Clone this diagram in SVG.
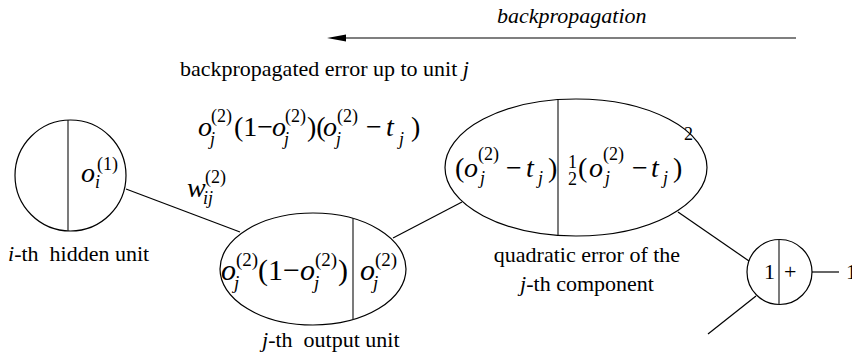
<svg xmlns="http://www.w3.org/2000/svg" width="852" height="362" viewBox="0 0 852 362" font-family="'Liberation Serif', 'Times New Roman', 'DejaVu Serif', serif">
<style>
.shape{fill:none;stroke:#000;stroke-width:1.2}
.div{stroke:#222;stroke-width:1.2}
.edge{stroke:#000;stroke-width:1.2;fill:none}
text, tspan{font-family:'Liberation Serif','Times New Roman','DejaVu Serif',serif}
text{fill:#000}
.lbl{font-size:22px}
.it{font-style:italic}
.f{font-size:30px}
.f2{font-size:28px}
.s{font-size:19px}
.s2{font-size:18px}
</style>
<rect width="852" height="362" fill="#fff"/>

<g id="backprop-arrow">
<text class="lbl it" x="497" y="23">backpropagation</text>
<line class="edge" x1="344" y1="38" x2="796" y2="38"/>
<polygon points="327,38 346,34.5 346,41.5" fill="#000"/>
</g>

<g id="backprop-error">
<text class="lbl" x="180" y="76">backpropagated error up to unit <tspan class="it">j</tspan></text>
<text class="f2">
<tspan class="it" x="198" y="136">o</tspan>
<tspan class="s2" x="211" y="122">(2)</tspan>
<tspan class="s2 it" x="210" y="145">j</tspan>
<tspan x="234" y="136">(1−</tspan>
<tspan class="it" x="272" y="136">o</tspan>
<tspan class="s2" x="285" y="122">(2)</tspan>
<tspan class="s2 it" x="284" y="145">j</tspan>
<tspan x="307" y="136">)(</tspan>
<tspan class="it" x="323" y="136">o</tspan>
<tspan class="s2" x="337" y="122">(2)</tspan>
<tspan class="s2 it" x="336" y="145">j</tspan>
<tspan x="366" y="136">−</tspan>
<tspan class="it" x="386" y="136">t</tspan>
<tspan class="s2 it" x="399" y="145">j</tspan>
<tspan x="411" y="136">)</tspan>
</text>
</g>

<g id="connectors">
<line class="edge" x1="126" y1="189" x2="240" y2="232"/>
<line class="edge" x1="393" y1="238" x2="462" y2="202"/>
<line class="edge" x1="678" y1="212" x2="749" y2="261"/>
<line class="edge" x1="756" y1="296" x2="708" y2="334"/>
<line class="edge" x1="812" y1="272" x2="839" y2="272"/>
<text class="f2">
<tspan class="it" x="187" y="197">w</tspan>
<tspan class="s2" x="205" y="183">(2)</tspan>
<tspan class="s2 it" x="203" y="204">ij</tspan>
</text>
</g>

<g id="hidden-unit">
<circle class="shape" cx="70.5" cy="175.5" r="55.5"/>
<line class="div" x1="68" y1="120" x2="68" y2="231"/>
<text class="f2">
<tspan class="it" x="81" y="182">o</tspan>
<tspan class="s2" x="97" y="170">(1)</tspan>
<tspan class="s2 it" x="95" y="188">i</tspan>
</text>
<text class="lbl" x="8" y="261"><tspan class="it">i</tspan>-th&#160; hidden unit</text>
</g>

<g id="output-unit">
<ellipse class="shape" cx="313" cy="269" rx="93" ry="56"/>
<line class="div" x1="353" y1="218" x2="353" y2="320"/>
<text class="f">
<tspan class="it" x="221" y="280">o</tspan>
<tspan class="s" x="236" y="266">(2)</tspan>
<tspan class="s it" x="234" y="289">j</tspan>
<tspan x="258" y="280">(1−</tspan>
<tspan class="it" x="300" y="280">o</tspan>
<tspan class="s" x="315" y="266">(2)</tspan>
<tspan class="s it" x="314" y="289">j</tspan>
<tspan x="338" y="280">)</tspan>
<tspan class="it" x="360" y="280">o</tspan>
<tspan class="s" x="375" y="266">(2)</tspan>
<tspan class="s it" x="373" y="289">j</tspan>
</text>
<text class="lbl" x="262" y="347"><tspan class="it">j</tspan>-th&#160; output unit</text>
</g>

<g id="error-unit">
<ellipse class="shape" cx="576" cy="167.5" rx="131" ry="68.5"/>
<line class="div" x1="558" y1="100" x2="558" y2="235"/>
<text class="f2">
<tspan x="455" y="177">(</tspan>
<tspan class="it" x="464" y="177">o</tspan>
<tspan class="s2" x="478" y="160">(2)</tspan>
<tspan class="s2 it" x="480" y="184">j</tspan>
<tspan x="506" y="177">−</tspan>
<tspan class="it" x="526" y="177">t</tspan>
<tspan class="s2 it" x="538" y="184">j</tspan>
<tspan x="548" y="177">)</tspan>
<tspan class="s2" x="568" y="168">1</tspan>
<tspan class="s2" x="568" y="185">2</tspan>
<tspan x="578" y="177">(</tspan>
<tspan class="it" x="589" y="177">o</tspan>
<tspan class="s2" x="603" y="160">(2)</tspan>
<tspan class="s2 it" x="605" y="184">j</tspan>
<tspan x="632" y="177">−</tspan>
<tspan class="it" x="651" y="177">t</tspan>
<tspan class="s2 it" x="663" y="184">j</tspan>
<tspan x="673" y="177">)</tspan>
<tspan class="s2" x="684" y="140">2</tspan>
</text>
<text class="lbl" x="587" y="262" text-anchor="middle">quadratic error of the</text>
<text class="lbl" x="587" y="291" text-anchor="middle"><tspan class="it">j</tspan>-th component</text>
</g>

<g id="sum-unit">
<circle class="shape" cx="779.5" cy="272" r="32.5"/>
<line class="div" x1="779" y1="239.5" x2="779" y2="304.5"/>
<text class="lbl" x="764" y="279">1</text>
<text class="lbl" x="784" y="279">+</text>
<text class="lbl" x="846" y="279">1</text>
</g>
</svg>
